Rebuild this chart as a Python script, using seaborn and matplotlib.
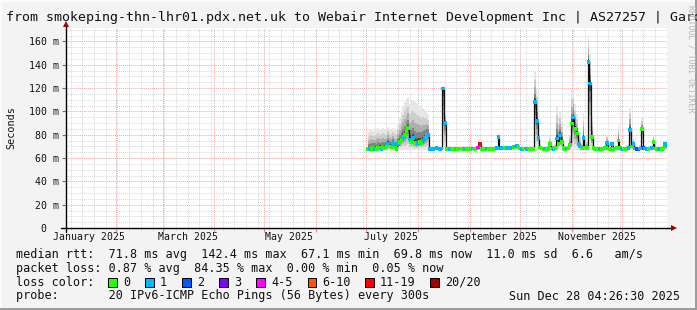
import numpy as np
import pandas as pd
import matplotlib
matplotlib.use("Agg")
import matplotlib.pyplot as plt
import matplotlib.dates as mdates
from matplotlib.ticker import MultipleLocator, FuncFormatter, NullFormatter
from matplotlib.patches import Rectangle
import seaborn as sns

# ---------------- data ----------------
first_sample = "2025-07-02 04:00"
range_start = "2025-01-02 04:26:30"
range_end = "2025-12-28 04:26:30"

median_rtt = [
    68.0, 67.5, 68.0, 68.5, 68.0, 67.5, 68.5, 69.0, 68.0, 68.5,
    69.0, 70.0, 72.5, 70.0, 69.5, 72.0, 69.0, 68.0,
    72.0, 74.0, 76.0, 78.0, 80.0, 83.0, 85.5, 76.0, 74.0, 77.0,
    73.0, 72.0, 73.0, 74.0, 73.0, 75.0, 77.0, 79.0, 79.5, 68.0,
    68.2, 68.0, 68.2, 68.4, 68.2, 68.0, 68.2,
    119.5, 90.0,
    68.0, 68.2, 68.0, 68.3, 68.0, 68.2, 68.0, 68.0, 68.2, 68.3,
    68.0, 68.2, 68.0, 68.2, 68.0, 68.3, 68.2, 68.0, 68.2,
    69.0, 72.0,
    68.0, 68.2, 68.0, 68.2, 68.3, 68.0, 68.2, 68.0, 68.2, 68.4,
    78.0,
    68.2, 68.4, 68.2, 68.5, 68.4, 68.6, 68.5, 69.0, 69.2,
    69.8, 70.2, 69.6,
    68.2, 68.0, 68.2, 68.3, 68.0, 68.2, 68.0, 68.2, 68.0,
    108.0, 92.0, 77.0,
    69.0, 68.2, 68.0, 68.2, 68.0, 68.4,
    72.0,
    68.2, 68.0, 68.5,
    76.7, 72.0, 79.6, 74.0,
    68.4, 68.0, 68.2, 68.5,
    71.5, 89.6, 95.0, 85.0, 81.0, 72.0, 70.0, 68.2, 77.0,
    69.0, 68.4,
    142.4, 124.0, 78.0,
    68.4, 68.0, 68.2, 68.0, 68.2, 68.0, 68.2, 68.4,
    73.0,
    68.2, 68.0,
    72.0,
    68.0, 68.2, 68.4,
    75.0,
    68.4, 68.0, 68.2, 68.0, 68.2, 68.4,
    84.0,
    70.0, 72.0,
    68.2, 68.0, 68.0, 68.2,
    85.0,
    68.4, 68.2, 68.0, 68.0, 68.2, 68.4,
    74.0,
    68.2, 68.0, 68.0, 68.2, 68.0, 68.4,
    72.0, 69.8,
]

smoke_top = [
    82, 84, 85, 83, 84, 85, 86, 84, 85, 86,
    85, 84, 87, 85, 84, 86, 85, 84,
    90, 95, 100, 104, 108, 111, 112, 106, 110, 109,
    108, 107, 106, 104, 102, 103, 101, 100, 98, 71,
    69.5, 69.5, 70, 69.5, 69.5, 70, 69.5,
    122, 100,
    69.5, 69.5, 70, 69.5, 69.5, 70, 69.5, 69.5, 69.5, 70,
    69.5, 69.5, 70, 69.5, 69.5, 69.5, 70, 69.5, 69.5,
    71, 74,
    69.5, 70, 69.5, 69.5, 70, 69.5, 69.5, 70, 69.5, 69.5,
    81,
    69.5, 70, 69.5, 69.5, 70, 69.5, 70, 71, 71,
    72, 72, 71.5,
    70, 69.5, 69.5, 70, 69.5, 69.5, 70, 69.5, 70,
    134, 120, 95,
    72, 70, 70, 69.5, 70, 71,
    78,
    71, 70, 72,
    105, 95, 100, 92,
    72, 70, 70, 71,
    80, 119, 118, 106, 98, 86, 80, 73, 98,
    73, 76,
    165, 150, 96,
    72, 70, 70, 69.5, 70, 69.5, 70, 71,
    80,
    71, 70,
    75,
    70, 69.5, 71,
    88,
    72, 70, 70, 69.5, 71, 72,
    103,
    78, 77,
    71, 70, 70, 71,
    94,
    73, 71, 70, 69.5, 70, 71,
    80,
    71, 70, 69.5, 70, 70, 72,
    75, 73,
]
smoke_floor = 67.1

loss_idx = [
    0, 1, 0, 0, 1, 0, 0, 0, 1, 0, 0, 0, 1, 0, 0, 1, 0, 0,
    1, 0, 0, 1, 0, 0, 0, 1, 0, 1, 0, 0, 1, 0, 0, 1, 1, 0, 1, 1,
    1, 1, 1, 1, 1, 1, 1,
    1, 1,
    0, 0, 1, 0, 0, 0, 1, 0, 0, 0, 0, 1, 0, 0, 0, 0, 1, 0, 0,
    4, 6,
    0, 0, 0, 1, 0, 0, 0, 0, 0, 1,
    1,
    1, 1, 1, 0, 1, 1, 1, 1, 0,
    1, 1, 0,
    0, 1, 0, 0, 1, 0, 0, 0, 0,
    1, 1, 1,
    0, 0, 0, 1, 0, 0,
    0,
    0, 1, 0,
    1, 0, 1, 0,
    0, 0, 1, 0,
    0, 0, 1, 0, 0, 1, 1, 0, 1,
    0, 0,
    1, 1, 0,
    0, 0, 0, 0, 1, 0, 0, 0,
    1,
    0, 0,
    1,
    0, 0, 0,
    0,
    0, 1, 0, 0, 0, 1,
    1,
    0, 1,
    1, 2, 2, 1,
    0,
    2, 1, 1, 0, 0, 1,
    0,
    0, 0, 1, 1, 0, 0,
    1, 1,
]

loss_labels = ["0", "1", "2", "3", "4-5", "6-10", "11-19", "20/20"]
loss_colors = ["#26ff00", "#00b8ff", "#0059ff", "#7e00ff", "#ff00ff",
               "#ff5500", "#ff0000", "#a10000"]

title = ("from smokeping-thn-lhr01.pdx.net.uk to Webair Internet Development Inc"
         " | AS27257 | Garden City, NY")
legend_rtt = ("median rtt:  71.8 ms avg  142.4 ms max  67.1 ms min  "
              "69.8 ms now  11.0 ms sd  6.6   am/s")
legend_loss = "packet loss: 0.87 % avg  84.35 % max  0.00 % min  0.05 % now"
legend_probe = "probe:       20 IPv6-ICMP Echo Pings (56 Bytes) every 300s"
stamp = "Sun Dec 28 04:26:30 2025"

# ---------------- figure ----------------
sns.set_theme(style="white")
plt.rcParams["font.family"] = ["DejaVu Sans Mono", "DejaVu Sans"]

W, H = 697, 310
fig = plt.figure(figsize=(W / 100, H / 100), dpi=100, facecolor="#f3f3f3")


def fx(px):
    return px / W


def fy(py):
    return 1 - py / H


ax = fig.add_axes([fx(66), fy(228), 601 / W, 200 / H])
ax.set_facecolor("white")

df = pd.DataFrame({
    "date": pd.date_range(first_sample, periods=len(median_rtt), freq="D"),
    "median": median_rtt,
    "top": smoke_top,
    "loss": [loss_labels[i] for i in loss_idx],
})
palette = dict(zip(loss_labels, loss_colors))

med = df["median"].to_numpy()
top = df["top"].to_numpy()
lo = np.minimum(smoke_floor, med)
shades = [(1.0, "#e6e6e6"), (0.72, "#cdcdcd"), (0.48, "#adadad"),
          (0.28, "#838383"), (0.12, "#4a4a4a")]
for frac, col in shades:
    ax.fill_between(df["date"], med - (med - lo) * frac, med + (top - med) * frac,
                    step="mid", color=col, lw=0, zorder=2)

sns.lineplot(data=df, x="date", y="median", ax=ax, color="#111111", lw=0.9,
             drawstyle="steps-mid", zorder=3)
sns.scatterplot(data=df, x="date", y="median", hue="loss", palette=palette,
                marker="s", s=7, linewidth=0, legend=False, ax=ax, zorder=4)

ax.set_xlim(pd.Timestamp(range_start), pd.Timestamp(range_end))
ax.set_ylim(0, 171.5)
ax.set_xlabel("")
ax.set_ylabel("")

# y axis
ax.yaxis.set_major_locator(MultipleLocator(20))
ax.yaxis.set_minor_locator(MultipleLocator(5))
ax.yaxis.set_major_formatter(FuncFormatter(lambda v, p: "0  " if v == 0 else f"{int(v)} m"))
ax.tick_params(axis="y", which="major", length=3, width=0.8, color="#777777",
               labelsize=7.1, pad=2, left=True, labelcolor="#111111")
ax.tick_params(axis="y", which="minor", length=0)

# x axis
ax.xaxis.set_major_locator(mdates.MonthLocator())
ax.xaxis.set_minor_locator(mdates.WeekdayLocator(byweekday=mdates.SU))
ax.xaxis.set_major_formatter(NullFormatter())
ax.tick_params(axis="x", which="major", length=3, width=0.8, color="#e58a8a", bottom=True)
ax.tick_params(axis="x", which="minor", length=1.5, width=0.6, color="#c8c8c8", bottom=True)

sec = ax.secondary_xaxis("bottom")
sec.xaxis.set_major_locator(mdates.MonthLocator(bymonth=[1, 3, 5, 7, 9, 11], bymonthday=16))
sec.xaxis.set_major_formatter(mdates.DateFormatter("%B %Y"))
sec.tick_params(length=0, pad=3.2, labelsize=7.1, labelcolor="#111111")
for s in sec.spines.values():
    s.set_visible(False)

# grid
ax.set_axisbelow(True)
ax.grid(True, which="minor", color="#d6d6d6", linestyle=(0, (1, 1)), lw=0.7)
ax.grid(True, which="major", color="#f0a6a6", linestyle=(0, (1, 1)), lw=0.7)

for s in ax.spines.values():
    s.set_visible(False)

# axis lines with arrows
ax.plot([-0.008, 1.009], [0, 0], transform=ax.transAxes, color="black", lw=1.0,
        clip_on=False, zorder=6)
ax.plot([0, 0], [-0.02, 1.01], transform=ax.transAxes, color="black", lw=1.0,
        clip_on=False, zorder=6)
ax.plot([1.0115], [0], marker=">", ms=4, color="#a00000", transform=ax.transAxes,
        clip_on=False, zorder=7, mew=0)
ax.plot([0], [1.02], marker="^", ms=4, color="#a00000", transform=ax.transAxes,
        clip_on=False, zorder=7, mew=0)

# texts
fig.text(fx(6), fy(17), title, fontsize=9.55, ha="left", va="center", color="#111111")
fig.text(fx(11), fy(128), "Seconds", rotation=90, ha="center", va="center",
         fontsize=7.3, color="#111111")
fig.text(fx(690.5), fy(5), "RRDTOOL / TOBI OETIKER", rotation=270, ha="center",
         va="top", fontsize=5.9, color="#b5b5b5")

fs = 8.45
fig.text(fx(16), fy(254.3), legend_rtt, fontsize=fs, ha="left", va="center", color="#111111")
fig.text(fx(16), fy(268.3), legend_loss, fontsize=fs, ha="left", va="center", color="#111111")
fig.text(fx(16), fy(282.3), "loss color:", fontsize=fs, ha="left", va="center", color="#111111")
box_x = [108, 145, 182, 219, 256, 307.5, 365, 430]
for bx, lab, col in zip(box_x, loss_labels, loss_colors):
    fig.add_artist(Rectangle((fx(bx), fy(282.3 + 4.3)), 8.5 / W, 8.5 / H,
                             transform=fig.transFigure, facecolor=col,
                             edgecolor="black", lw=0.7))
    fig.text(fx(bx + 15), fy(282.3), lab, fontsize=fs, ha="left", va="center", color="#111111")
fig.text(fx(16), fy(296), legend_probe, fontsize=fs, ha="left", va="center", color="#111111")
fig.text(fx(680), fy(296), stamp, fontsize=fs, ha="right", va="center", color="#111111")

# frame
fig.add_artist(Rectangle((0, 1 - 2 / H), 1, 2 / H, transform=fig.transFigure,
                         color="#fbfbfb", lw=0))
fig.add_artist(Rectangle((0, 0), 2 / W, 1, transform=fig.transFigure,
                         color="#fbfbfb", lw=0))
fig.add_artist(Rectangle((fx(694.5), 0), 2.5 / W, 1, transform=fig.transFigure,
                         color="#9c9c9c", lw=0))
fig.add_artist(Rectangle((0, 0), 1, 2.5 / H, transform=fig.transFigure,
                         color="#9c9c9c", lw=0))

fig.savefig("out.png", dpi=100, facecolor=fig.get_facecolor())
